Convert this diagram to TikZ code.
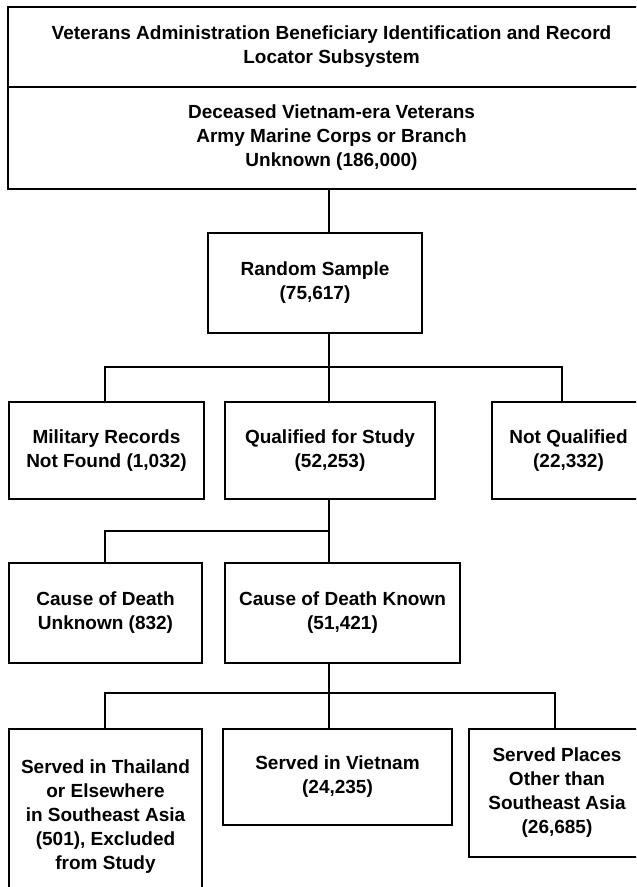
\documentclass[tikz,border=0pt]{standalone}
\usepackage{fontspec}
\setmainfont{Liberation Sans}
\usetikzlibrary{calc,positioning}

\begin{document}
\begin{tikzpicture}[x=0.5pt,y=-0.5pt,
	cell/.style={draw,line width=0.8pt,inner sep=0pt,align=center,font=\fontsize{9.5}{12}\selectfont\bfseries},
	link/.style={line width=0.8pt}]
		\useasboundingbox (0,0) rectangle (636,887);
		\clip (0,0) rectangle (636,887);
		% boxes: name/left/top/right/bottom/text
		\foreach \n/\a/\b/\c/\d/\t in {
			head/8/7/655/87/{Veterans Administration Beneficiary Identification and Record\\Locator Subsystem},
			pop/8/87/655/189/{Deceased Vietnam-era Veterans\\Army Marine Corps or Branch\\Unknown (186,000)},
			rand/208/233/422/333/{Random Sample\\(75,617)},
			mil/9/402/204/499/{Military Records\\Not Found (1,032)},
			qual/225/402/435/499/{Qualified for Study\\(52,253)},
			notq/492/402/645/499/{Not Qualified\\(22,332)},
			unk/9/563/202/663/{Cause of Death\\Unknown (832)},
			known/225/563/460/663/{Cause of Death Known\\(51,421)},
			thai/9/729/202/905/{Served in Thailand\\or Elsewhere\\in Southeast Asia\\(501), Excluded\\from Study},
			viet/223/729/452/825/{Served in Vietnam\\(24,235)},
			places/469/729/645/857/{Served Places\\Other than\\Southeast Asia\\(26,685)}}
		\node[cell,minimum width={(\c-\a)*0.5pt},minimum height={(\d-\b)*0.5pt}] (\n) at ({(\a+\c)/2},{(\b+\d)/2}) {\t};
		% drop columns
		\coordinate (c1) at (105,0);
		\coordinate (c2) at (329,0);
		\coordinate (c3) at (562,0);
		\coordinate (c4) at (555,0);
		\draw[link] (pop.south -| c2) -- (rand.north -| c2);
		\draw[link] (rand.south -| c2) -- (qual.north -| c2);
		\draw[link] (mil.north -| c1) -- ++(0,-34) -| (notq.north -| c3);
		\draw[link] (qual.south -| c2) -- (known.north -| c2);
		\draw[link] (unk.north -| c1) -- ++(0,-31) -| (qual.south -| c2);
		\draw[link] (known.south -| c2) -- (viet.north -| c2);
		\draw[link] (thai.north -| c1) -- ++(0,-35) -| (places.north -| c4);
	\end{tikzpicture}
\end{document}
